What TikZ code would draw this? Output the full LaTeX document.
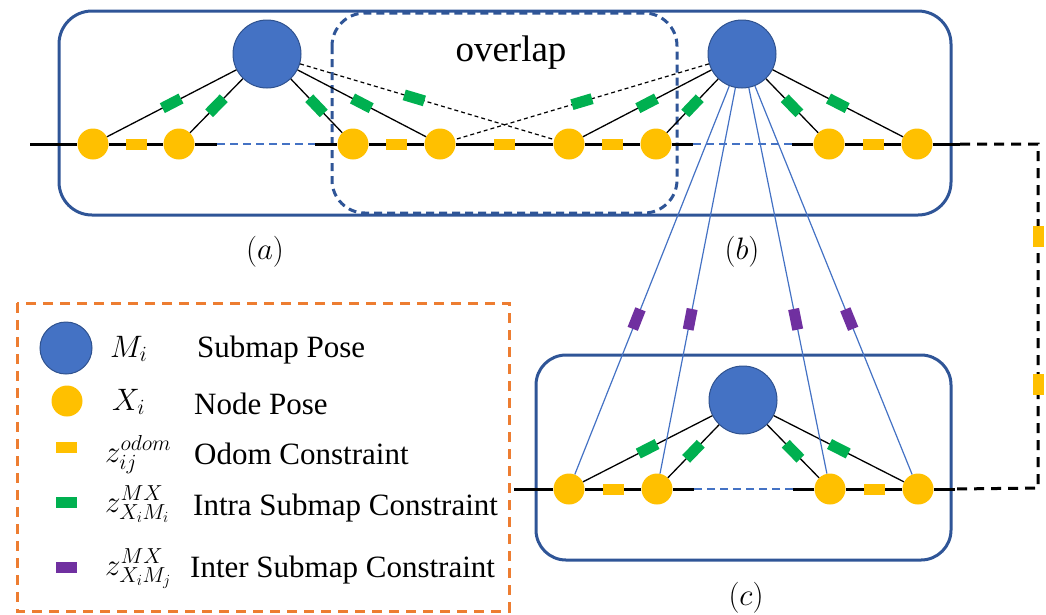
\documentclass[tikz,border=0pt]{standalone}
\usepackage{fix-cm}
\usepackage{fontspec}
\setmainfont{Liberation Serif}
\usetikzlibrary{calc}
\definecolor{submap-blue}{RGB}{68, 114, 196}
\definecolor{submap-edge}{RGB}{47, 82, 143}
\definecolor{box-blue}{RGB}{47, 85, 151}
\definecolor{node-yellow}{RGB}{255, 192, 0}
\definecolor{intra-green}{RGB}{0, 176, 80}
\definecolor{inter-violet}{RGB}{112, 48, 160}
\definecolor{legend-orange}{RGB}{237, 125, 49}

\begin{document}
\begin{tikzpicture}[x=1pt, y=-1pt,
  submap/.style={circle, fill=submap-blue, draw=submap-edge, line width=1pt, minimum size=68pt, inner sep=0pt},
  pose/.style={circle, fill=node-yellow, minimum size=31pt, inner sep=0pt},
  odom/.style={fill=node-yellow, minimum width=21pt, minimum height=11pt, inner sep=0pt, sloped},
  intra/.style={fill=intra-green, minimum width=21pt, minimum height=11pt, inner sep=0pt},
  inter/.style={fill=inter-violet, minimum width=21pt, minimum height=11pt, inner sep=0pt},
  track/.style={line width=3pt},
  gapline/.style={submap-blue, line width=1.3pt, dash pattern=on 8pt off 5pt},
  link/.style={line width=1.3pt},
  linkdash/.style={line width=1.2pt, dash pattern=on 4pt off 3pt},
  crossline/.style={submap-blue, line width=1.2pt},
  mapbox/.style={box-blue, line width=3pt, rounded corners=33pt},
  txt/.style={font=\fontsize{31}{36}\selectfont, inner sep=0pt}
]
\useasboundingbox (0,0) rectangle (1046,614);
\draw[mapbox] (59,11) rectangle (951,215);
\draw[mapbox, dash pattern=on 8pt off 5pt] (332,13) rectangle (677,213);
\draw[mapbox, rounded corners=30pt] (536,355) rectangle (951,560);
\draw[legend-orange, line width=3pt, dash pattern=on 10pt off 7pt] (17,303) rectangle (509,611);

\node[font=\fontsize{37}{44}\selectfont, inner sep=0pt] (ov) at (511,53) {overlap};

\node[submap] (Ma) at (267,54) {};
\node[submap] (Mb) at (742,54) {};
\node[submap] (Mc) at (743,400) {};
\foreach \x [count=\i] in {93,179,353,440} \node[pose] (a\i) at (\x,144) {};
\foreach \x [count=\i] in {569,656,829,917} \node[pose] (b\i) at (\x,144) {};
\foreach \x [count=\i] in {569,657,830,918} \node[pose] (c\i) at (\x,489) {};

\coordinate (a0) at (30,144);
\coordinate (a5) at (217,144);
\coordinate (a6) at (315,144);
\coordinate (b0) at (693,144);
\coordinate (b5) at (792,144);
\coordinate (b6) at (960,144);
\coordinate (r1) at (1038,144);
\coordinate (r2) at (1038,488);
\coordinate (c6) at (955,489);
\coordinate (c5) at (793,489);
\coordinate (c0) at (694,489);
\coordinate (c7) at (514,489);

\draw[track] (a0) -- (a1) -- node[odom]{} (a2) -- (a5);
\draw[gapline] (a5) -- (a6);
\draw[track] (a6) -- (a3) -- node[odom]{} (a4) -- node[odom]{} (b1) -- node[odom]{} (b2) -- (b0);
\draw[gapline] (b0) -- (b5);
\draw[track] (b5) -- (b3) -- node[odom]{} (b4) -- (b6);
\draw[track, dash pattern=on 10pt off 7pt] (b6) -- (r1) -- node[odom, pos=0.27]{} node[odom, pos=0.7]{} (r2) -- (c6);
\draw[track] (c6) -- (c4) -- node[odom]{} (c3) -- (c5);
\draw[gapline] (c5) -- (c0);
\draw[track] (c0) -- (c2) -- node[odom]{} (c1) -- (c7);

\foreach \n in {a1,a2,a3,a4} \draw[link] (Ma) -- node[intra, sloped]{} (\n);
\foreach \n in {b1,b2,b3,b4} \draw[link] (Mb) -- node[intra, sloped]{} (\n);
\foreach \n in {c1,c2,c3,c4} \draw[link] (Mc) -- node[intra, sloped]{} (\n);
\draw[linkdash] (Ma) -- node[intra, sloped, pos=0.45]{} (b1);
\draw[linkdash] (Mb) -- node[intra, sloped]{} (a4);
\foreach \n in {c1,c2,c3,c4} \draw[crossline] (Mb) -- node[inter, sloped, pos=0.6]{} (\n);

\node[txt] (la) at (265,252) {$(a)$};
\node[txt] (lb) at (742,252) {$(b)$};
\node[txt] (lc) at (746,598) {$(c)$};

\node[submap, minimum size=52pt] (kM) at (66,348) {};
\node[pose] (kX) at (67,401) {};
\node[odom] (kO) at (66,447) {};
\node[intra] (kI) at (66,502) {};
\node[inter] (kJ) at (66,567) {};
\node[txt, anchor=base west] (kMs) at (110,357) {$M_i$};
\node[txt, anchor=base west] (kMt) at (197,357) {Submap Pose};
\node[txt, anchor=base west] (kXs) at (112,410) {$X_i$};
\node[txt, anchor=base west] (kXt) at (194,414) {Node Pose};
\node[txt, anchor=base west] (kOs) at (105,462) {$z_{ij}^{odom}$};
\node[txt, anchor=base west] (kOt) at (194,464) {Odom Constraint};
\node[txt, anchor=base west] (kIs) at (105,512) {$z_{X_iM_i}^{MX}$};
\node[txt, anchor=base west] (kIt) at (193,515) {Intra Submap Constraint};
\node[txt, anchor=base west] (kJs) at (105,575) {$z_{X_iM_j}^{MX}$};
\node[txt, anchor=base west] (kJt) at (190,577) {Inter Submap Constraint};
\end{tikzpicture}
\end{document}
